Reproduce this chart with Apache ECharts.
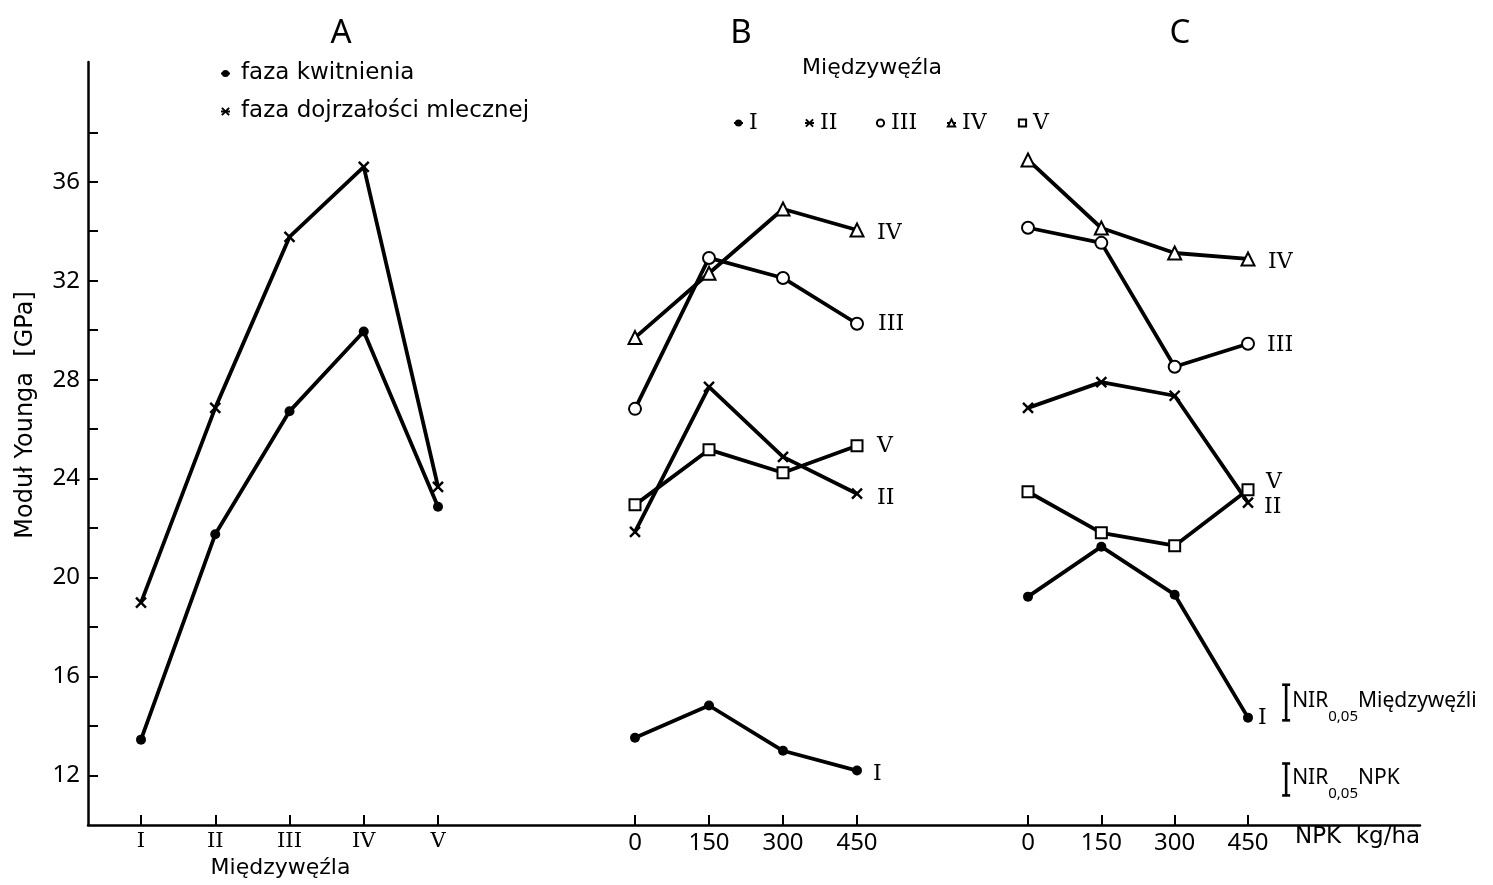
<!DOCTYPE html>
<html>
<head>
<meta charset="utf-8">
<script src="https://cdn.jsdelivr.net/npm/echarts@6/dist/echarts.min.js"></script>
<style>
html,body{margin:0;padding:0;background:#fff;}
#chart{width:1493px;height:885px;}
</style>
</head>
<body>
<div id="chart"></div>
<script>
// ---------- data ----------
const internodeTicks = ['I', 'II', 'III', 'IV', 'V'];
const internodePos = [1, 2, 3, 4, 5];
const npkLevels = [0, 150, 300, 450];

const aFlowering = [13.45, 21.75, 26.72, 29.95, 22.86];
const aMilky = [18.99, 26.86, 33.77, 36.6, 23.67];

const bI = [13.53, 14.83, 13.0, 12.2];
const bII = [21.85, 27.71, 24.88, 23.39];
const bIII = [26.82, 32.92, 32.11, 30.26];
const bIV = [29.7, 32.3, 34.9, 34.05];
const bV = [22.94, 25.17, 24.24, 25.33];

const cI = [19.23, 21.25, 19.31, 14.34];
const cII = [26.86, 27.9, 27.35, 23.03];
const cIII = [34.14, 33.53, 28.52, 29.45];
const cIV = [36.88, 34.13, 33.12, 32.88];
const cV = [23.47, 21.81, 21.29, 23.55];

const yTickValues = [12, 14, 16, 18, 20, 22, 24, 26, 28, 30, 32, 34, 36, 38];
const yLabelValues = [12, 16, 20, 24, 28, 32, 36];

const nirNames = ['Międzywęźli', 'NPK'];
const nirLsd = [1.44, 1.29];
const nirCenter = [14.95, 11.84];
const nirX = 528;

const phaseNames = ['faza kwitnienia', 'faza dojrzałości mlecznej'];
const internodeNames = ['I', 'II', 'III', 'IV', 'V'];

// ---------- styles ----------
const SANS = 'DejaVu Sans';
const NUM = 'Noto Sans';
const SERIF = 'DejaVu Serif';
const CROSS = 'path://M0,0L10,10M10,0L0,10';
const Y_MIN = 10, Y_MAX = 40.84;
const TOP = 62, BOTTOM = 60;
const LINE_W = 3.8;

const symbolFor = {
  'I': {symbol: 'circle', size: 10, bw: 0},
  'II': {symbol: CROSS, size: 10, bw: 2.4},
  'III': {symbol: 'emptyCircle', size: 12, bw: 2},
  'IV': {symbol: 'emptyTriangle', size: 13, bw: 2},
  'V': {symbol: 'emptyRect', size: 11, bw: 2}
};

function pairs(xs, ys) { return xs.map((x, i) => [x, ys[i]]); }

function lineSeries(name, xIdx, xs, ys, sym, endOffset) {
  const s = {
    type: 'line',
    name: name,
    xAxisIndex: xIdx,
    yAxisIndex: xIdx,
    data: pairs(xs, ys),
    symbol: sym.symbol,
    symbolSize: sym.size,
    legendIcon: sym.symbol,
    showAllSymbol: true,
    silent: true,
    animation: false,
    lineStyle: {color: '#000', width: LINE_W},
    itemStyle: {color: '#000', borderColor: '#000', borderWidth: sym.bw},
    z: 3
  };
  if (endOffset) {
    s.endLabel = {
      show: true,
      formatter: name,
      distance: endOffset[0],
      offset: [0, endOffset[1]],
      fontFamily: SERIF,
      fontSize: 22,
      color: '#000'
    };
  }
  return s;
}

const series = [
  lineSeries(phaseNames[0], 1, internodePos, aFlowering, symbolFor['I']),
  lineSeries(phaseNames[1], 1, internodePos, aMilky, symbolFor['II']),

  lineSeries('I', 2, npkLevels, bI, symbolFor['I'], [16, 4]),
  lineSeries('II', 2, npkLevels, bII, symbolFor['II'], [20, 5]),
  lineSeries('III', 2, npkLevels, bIII, symbolFor['III'], [21, 1]),
  lineSeries('IV', 2, npkLevels, bIV, symbolFor['IV'], [20, 3]),
  lineSeries('V', 2, npkLevels, bV, symbolFor['V'], [20, 1]),

  lineSeries('I', 3, npkLevels, cI, symbolFor['I'], [10, 1]),
  lineSeries('II', 3, npkLevels, cII, symbolFor['II'], [16, 5]),
  lineSeries('III', 3, npkLevels, cIII, symbolFor['III'], [19, 1]),
  lineSeries('IV', 3, npkLevels, cIV, symbolFor['IV'], [20, 3]),
  lineSeries('V', 3, npkLevels, cV, symbolFor['V'], [18, -7]),

  {
    type: 'custom',
    xAxisIndex: 3,
    yAxisIndex: 3,
    clip: false,
    silent: true,
    animation: false,
    data: nirNames.map((n, i) => [nirX, nirCenter[i], nirLsd[i], i]),
    renderItem: function (params, api) {
      const x = api.value(0), c = api.value(1), d = api.value(2), idx = api.value(3);
      const pTop = api.coord([x, c + d / 2]);
      const pBot = api.coord([x, c - d / 2]);
      const pMid = api.coord([x, c]);
      const cap = 4;
      const ls = {stroke: '#000', lineWidth: 2.6};
      return {
        type: 'group',
        children: [
          {type: 'line', shape: {x1: pTop[0], y1: pTop[1], x2: pBot[0], y2: pBot[1]}, style: ls},
          {type: 'line', shape: {x1: pTop[0] - cap, y1: pTop[1], x2: pTop[0] + cap, y2: pTop[1]}, style: ls},
          {type: 'line', shape: {x1: pBot[0] - cap, y1: pBot[1], x2: pBot[0] + cap, y2: pBot[1]}, style: ls},
          {
            type: 'text',
            x: pMid[0] + 6,
            y: pMid[1] - 12,
            style: {
              text: '{a|NIR}{s|0,05}{a|' + nirNames[idx] + '}',
              verticalAlign: 'top',
              align: 'left',
              rich: {
                a: {fontFamily: NUM, fontSize: 21, lineHeight: 24, verticalAlign: 'top', fill: '#000', color: '#000'},
                s: {fontFamily: NUM, fontSize: 15, lineHeight: 34, verticalAlign: 'bottom', fill: '#000', color: '#000'}
              }
            }
          }
        ]
      };
    }
  }
];

function panelX(idx, min, max, interval, formatter) {
  return {
    type: 'value',
    gridIndex: idx,
    min: min, max: max, interval: interval,
    axisLine: {show: false},
    splitLine: {show: false},
    axisTick: {show: true, inside: true, length: 10, lineStyle: {color: '#000', width: 2}},
    axisLabel: {
      show: true, margin: 6, color: '#000',
      fontFamily: formatter ? SERIF : NUM,
      fontSize: formatter ? 21 : 24,
      formatter: formatter || function (v) { return String(v); }
    }
  };
}
function hiddenY(idx) {
  return {type: 'value', gridIndex: idx, min: Y_MIN, max: Y_MAX, show: false};
}

const option = {
  backgroundColor: '#fff',
  animation: false,
  grid: [
    {left: 88, right: 73, top: TOP, bottom: BOTTOM},
    {left: 141, width: 297, top: TOP, bottom: BOTTOM},
    {left: 635, width: 222, top: TOP, bottom: BOTTOM},
    {left: 1028, width: 220, top: TOP, bottom: BOTTOM}
  ],
  xAxis: [
    {
      type: 'value', gridIndex: 0, min: 0, max: 1,
      axisLine: {show: true, lineStyle: {color: '#000', width: 2.5}},
      axisTick: {show: false}, axisLabel: {show: false}, splitLine: {show: false}
    },
    Object.assign(panelX(1, 1, 5, 1, function (v) { return internodeTicks[internodePos.indexOf(v)] || ''; }), {
      name: 'Międzywęźla', nameLocation: 'middle', nameGap: 31,
      nameTextStyle: {fontFamily: SANS, fontSize: 22, color: '#000', padding: [0, 18, 0, 0]}
    }),
    panelX(2, 0, 450, 150),
    Object.assign(panelX(3, 0, 450, 150), {
      name: 'NPK  kg/ha', nameLocation: 'end', nameGap: 47,
      nameTextStyle: {fontFamily: SANS, fontSize: 23, color: '#000', verticalAlign: 'top', padding: [1, 0, 0, 0]}
    })
  ],
  yAxis: [
    {
      type: 'value', gridIndex: 0, min: Y_MIN, max: Y_MAX,
      axisLine: {show: true, lineStyle: {color: '#000', width: 2.5}},
      axisTick: {show: true, inside: true, length: 10, customValues: yTickValues, lineStyle: {color: '#000', width: 2}},
      axisLabel: {show: true, customValues: yLabelValues, margin: 8, color: '#000', fontFamily: NUM, fontSize: 24},
      splitLine: {show: false}
    },
    hiddenY(1), hiddenY(2), hiddenY(3)
  ],
  legend: [
    {
      data: phaseNames,
      orient: 'vertical',
      left: 215, top: 57,
      itemWidth: 9, itemHeight: 9, itemGap: 15,
      selectedMode: false,
      textStyle: {fontFamily: SANS, fontSize: 23, color: '#000', lineHeight: 23, padding: [0, 0, 0, 6]}
    },
    {
      data: internodeNames,
      orient: 'horizontal',
      left: 728, top: 107,
      itemWidth: 9, itemHeight: 9, itemGap: 20,
      selectedMode: false,
      textStyle: {fontFamily: SERIF, fontSize: 22, color: '#000', lineHeight: 22, width: 35, padding: [0, 0, 0, 1]}
    }
  ],
  graphic: [
    {type: 'text', x: 341, y: 34, silent: true, style: {text: 'A', align: 'center', verticalAlign: 'middle', fontFamily: NUM, fontSize: 33, fill: '#000'}},
    {type: 'text', x: 741, y: 34, silent: true, style: {text: 'B', align: 'center', verticalAlign: 'middle', fontFamily: NUM, fontSize: 33, fill: '#000'}},
    {type: 'text', x: 1180, y: 34, silent: true, style: {text: 'C', align: 'center', verticalAlign: 'middle', fontFamily: NUM, fontSize: 33, fill: '#000'}},
    {type: 'text', x: 872, y: 68, silent: true, style: {text: 'Międzywęźla', align: 'center', verticalAlign: 'middle', fontFamily: SANS, fontSize: 22, fill: '#000'}},
    {type: 'text', x: 26, y: 415, rotation: Math.PI / 2, silent: true, style: {text: 'Moduł Younga  [GPa]', align: 'center', verticalAlign: 'middle', fontFamily: SANS, fontSize: 24, fill: '#000'}}
  ],
  series: series
};

const chart = echarts.init(document.getElementById('chart'), null, {renderer: 'canvas'});
chart.setOption(option);
</script>
</body>
</html>
